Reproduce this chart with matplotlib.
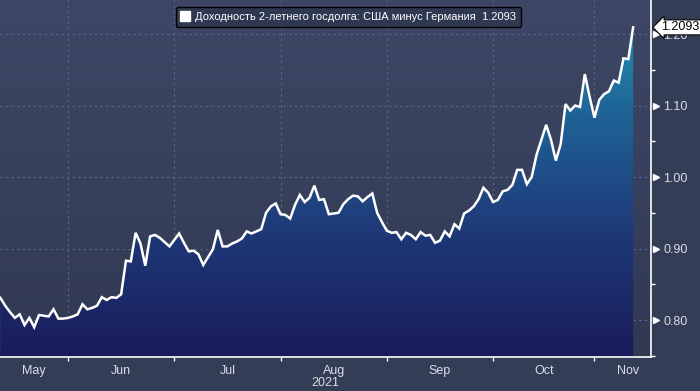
import numpy as np
import pandas as pd
import matplotlib
matplotlib.use('Agg')
import matplotlib.pyplot as plt
from matplotlib.colors import LinearSegmentedColormap
from matplotlib.lines import Line2D

plt.rcParams['font.family'] = ['Liberation Sans', 'DejaVu Sans']

# business days, 12 May - 11 Nov 2021
dates = pd.bdate_range('2021-05-12', '2021-11-11')

# 2y UST minus 2y Bund, percentage points
spread = [
    0.831, 0.820, 0.811, 0.803, 0.808, 0.793, 0.803, 0.790, 0.807, 0.806,
    0.805, 0.815, 0.802, 0.802,
    0.803, 0.805, 0.808, 0.822, 0.815, 0.817, 0.820, 0.832, 0.828, 0.832,
    0.831, 0.836, 0.883, 0.882, 0.922, 0.907, 0.876, 0.917, 0.919, 0.915,
    0.909, 0.903,
    0.912, 0.921, 0.908, 0.896, 0.897, 0.892, 0.877, 0.888, 0.899, 0.926,
    0.903, 0.903, 0.907, 0.910, 0.914, 0.924, 0.921, 0.924, 0.927, 0.950,
    0.959, 0.963,
    0.948, 0.947, 0.942, 0.961, 0.975, 0.965, 0.971, 0.988, 0.968, 0.969,
    0.948, 0.949, 0.950, 0.962, 0.969, 0.974, 0.973, 0.966, 0.972, 0.977,
    0.950, 0.937,
    0.925, 0.922, 0.923, 0.913, 0.922, 0.919, 0.913, 0.923, 0.918, 0.919,
    0.908, 0.911, 0.924, 0.917, 0.934, 0.928, 0.949, 0.953, 0.959, 0.969,
    0.985, 0.978,
    0.965, 0.968, 0.980, 0.982, 0.989, 1.010, 1.010, 0.990, 1.000, 1.031,
    1.052, 1.073, 1.052, 1.023, 1.046, 1.102, 1.093, 1.100, 1.098, 1.144,
    1.112,
    1.083, 1.108, 1.116, 1.120, 1.135, 1.132, 1.166, 1.165, 1.2093,
]
months = ['May', 'Jun', 'Jul', 'Aug', 'Sep', 'Oct', 'Nov']
year_label = '2021'
yticks = [0.80, 0.90, 1.00, 1.10, 1.20]
yminor = [0.75, 0.85, 0.95, 1.05, 1.15]
series_name = 'Доходность 2-летнего госдолга: США минус Германия'
last_value = spread[-1]

x = np.arange(len(dates))
ymin, ymax = 0.7483, 1.2476
xmin, xmax = -0.08, 134.7

fig = plt.figure(figsize=(7, 3.91), dpi=100, facecolor='#343d56')
ax = fig.add_axes([0, 34 / 391, 651 / 700, 357 / 391])
ax.set_facecolor('none')
ax.set_xlim(xmin, xmax)
ax.set_ylim(ymin, ymax)

# background gradient of the plot area
grad = np.linspace(0, 1, 256).reshape(-1, 1)
bg_cmap = LinearSegmentedColormap.from_list('bg', ['#313953', '#3d4765'])
ax.imshow(grad, extent=[xmin, xmax, ymin, ymax], origin='lower',
          aspect='auto', cmap=bg_cmap, zorder=0)

# area fill with vertical gradient
fill_cmap = LinearSegmentedColormap.from_list(
    'fill', ['#1a1b5a', '#1e3777', '#1f6195', '#249ab7'])
poly = ax.fill_between(x, spread, ymin, color='none', lw=0)
im = ax.imshow(grad, extent=[xmin, xmax, ymin, ymax], origin='lower',
               aspect='auto', cmap=fill_cmap, zorder=2)
im.set_clip_path(poly.get_paths()[0], ax.transData)

ax.plot(x, spread, color='white', lw=1.8, zorder=4, solid_joinstyle='miter')

# month boundaries
starts = [i for i in range(1, len(dates)) if dates[i].month != dates[i - 1].month]
edges = [xmin] + starts + [xmax]
centers = [(edges[i] + edges[i + 1]) / 2 for i in range(len(edges) - 1)]
centers[-1] = edges[-2] + 0.6 * (edges[-1] - edges[-2])

ax.set_xticks(starts)
ax.set_xticklabels([])
ax.set_xticks(centers, minor=True)
ax.set_xticklabels(months, minor=True)
ax.tick_params(axis='x', which='major', direction='out', length=3, width=1,
               color='white')
ax.tick_params(axis='x', which='minor', length=0, pad=6, labelsize=9,
               labelcolor='#d9dde6')

ax.yaxis.tick_right()
ax.set_yticks(yticks)
ax.set_yticklabels(['%.2f' % v for v in yticks])
ax.set_yticks(yminor, minor=True)
ax.tick_params(axis='y', which='major', length=0, pad=9, labelsize=9,
               labelcolor='#d9dde6')
ax.tick_params(axis='y', which='minor', direction='out', length=3, width=1,
               color='white')
ax.plot([1.007] * len(yticks), yticks, ls='none', marker='>', ms=5,
        color='white', transform=ax.get_yaxis_transform(), clip_on=False,
        zorder=5)

ax.grid(True, which='major', color='#5d6783', lw=0.8, ls=(0, (2, 3)))
for gl in ax.get_xgridlines() + ax.get_ygridlines():
    gl.set_zorder(3)

for s in ['top', 'left']:
    ax.spines[s].set_visible(False)
for s in ['right', 'bottom']:
    ax.spines[s].set_color('white')
    ax.spines[s].set_linewidth(1.2)
    ax.spines[s].set_zorder(6)

fig.text(325 / 700, 1 - 383 / 391, year_label, ha='center', va='center',
         fontsize=9, color='#d9dde6')

# legend
handle = Line2D([], [], ls='none', marker='s', ms=7.5, color='white')
leg = ax.legend([handle], ['%s  %.4f' % (series_name, last_value)],
                loc='upper center', bbox_to_anchor=(348.5 / 651, 1 - 7 / 357),
                frameon=True, fancybox=True, facecolor='#2f3851',
                edgecolor='black', framealpha=1, fontsize=8,
                handlelength=0.8, handletextpad=0.5, borderpad=0.45,
                borderaxespad=0, labelcolor='white')
leg.get_frame().set_linewidth(1)
leg.set_zorder(7)

# last value tag
ax.annotate('%.4f' % last_value, xy=(1.0, last_value),
            xycoords=ax.get_yaxis_transform(), xytext=(1.015, last_value),
            textcoords=ax.get_yaxis_transform(), ha='left', va='center',
            fontsize=9, color='black', annotation_clip=False, zorder=8,
            bbox=dict(boxstyle='larrow,pad=0.12', fc='white', ec='black', lw=0.8))

fig.savefig('out.png', dpi=100, facecolor=fig.get_facecolor())
